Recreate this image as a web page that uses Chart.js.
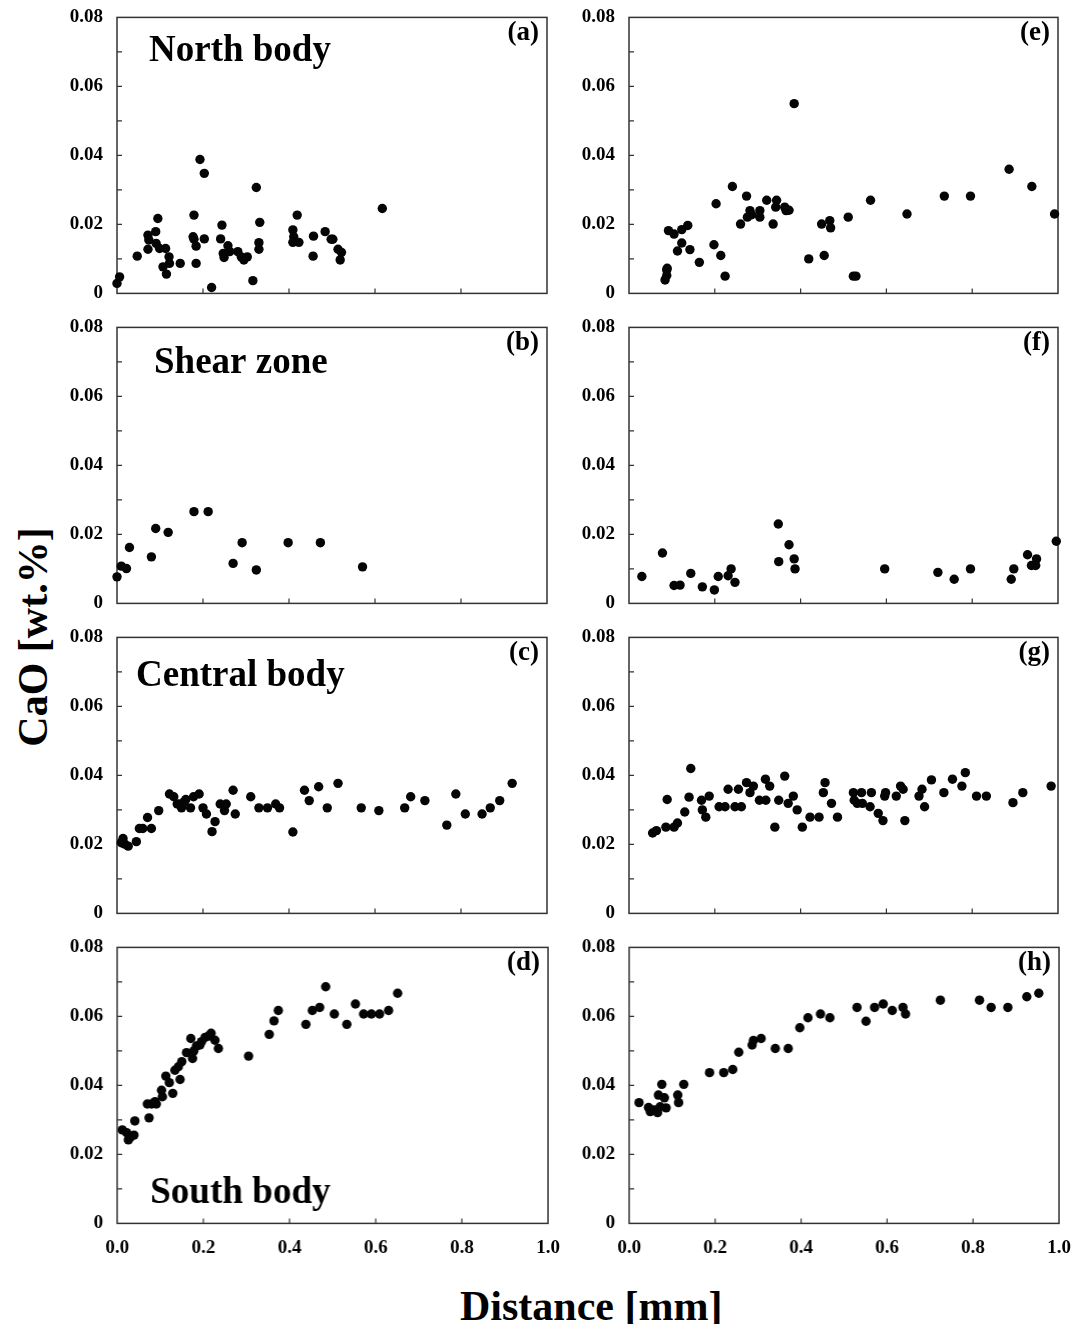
<!DOCTYPE html>
<html>
<head>
<meta charset="utf-8">
<script src="https://cdn.jsdelivr.net/npm/chart.js@4"></script>
<style>
  html, body { margin: 0; padding: 0; background: #fff; }
  #wrap { position: relative; width: 1072px; height: 1324px; overflow: hidden; background: #fff; }
  canvas { position: absolute; }
  .axt { position: absolute; font-family: "Liberation Serif", "Times New Roman", serif; font-weight: bold; font-size: 42px; color: #000; white-space: nowrap; line-height: 1; }
</style>
</head>
<body>
<div id="wrap">
  <div class="axt" id="ytitle">CaO [wt.%]</div>
  <div class="axt" id="xtitle">Distance [mm]</div>
</div>
<script>
// ---------------- DATA ----------------
const xTicks = [0.0, 0.2, 0.4, 0.6, 0.8, 1.0];
const yTicks = [0, 0.02, 0.04, 0.06, 0.08];

// (a) North body
const aX = [0.000,0.006,0.047,0.072,0.072,0.074,0.090,0.095,0.091,0.099,0.107,0.113,0.115,0.121,0.122,0.147,0.179,0.177,0.179,0.184,0.184,0.193,0.203,0.203,0.220,0.244,0.241,0.247,0.249,0.258,0.262,0.281,0.289,0.295,0.303,0.316,0.324,0.332,0.330,0.330,0.409,0.411,0.409,0.419,0.423,0.457,0.456,0.484,0.498,0.502,0.514,0.522,0.519,0.617];
const aY = [0.0029,0.0048,0.0108,0.0169,0.0128,0.0155,0.0179,0.0217,0.0145,0.0130,0.0077,0.0130,0.0056,0.0106,0.0087,0.0087,0.0227,0.0164,0.0157,0.0137,0.0087,0.0388,0.0348,0.0158,0.0017,0.0198,0.0158,0.0116,0.0104,0.0138,0.0121,0.0121,0.0106,0.0097,0.0106,0.0037,0.0307,0.0206,0.0147,0.0128,0.0184,0.0164,0.0148,0.0227,0.0148,0.0166,0.0108,0.0179,0.0157,0.0157,0.0128,0.0119,0.0097,0.0246];

// (b) Shear zone
const bX = [0.000,0.010,0.022,0.029,0.080,0.090,0.119,0.179,0.212,0.270,0.291,0.324,0.398,0.473,0.571];
const bY = [0.0077,0.0108,0.0101,0.0162,0.0135,0.0217,0.0206,0.0266,0.0266,0.0116,0.0176,0.0097,0.0176,0.0176,0.0106];

// (c) Central body
const cX = [0.010,0.014,0.018,0.026,0.045,0.052,0.060,0.071,0.080,0.097,0.122,0.132,0.147,0.150,0.157,0.171,0.178,0.191,0.200,0.208,0.221,0.228,0.240,0.250,0.254,0.270,0.275,0.311,0.330,0.350,0.369,0.378,0.409,0.436,0.447,0.469,0.489,0.514,0.568,0.609,0.669,0.683,0.716,0.767,0.788,0.810,0.849,0.868,0.890,0.919,0.140,0.160];
const cY = [0.0205,0.0217,0.0201,0.0195,0.0208,0.0246,0.0246,0.0278,0.0246,0.0298,0.0346,0.0338,0.0317,0.0306,0.0324,0.0306,0.0338,0.0346,0.0306,0.0288,0.0237,0.0266,0.0317,0.0298,0.0317,0.0357,0.0288,0.0338,0.0306,0.0306,0.0317,0.0306,0.0236,0.0357,0.0327,0.0367,0.0306,0.0377,0.0306,0.0298,0.0306,0.0338,0.0327,0.0256,0.0346,0.0288,0.0288,0.0306,0.0327,0.0377,0.0317,0.0330];

// (d) South body
const dX = [0.012,0.022,0.026,0.031,0.039,0.041,0.070,0.074,0.080,0.088,0.091,0.103,0.105,0.113,0.121,0.129,0.134,0.142,0.146,0.150,0.161,0.171,0.175,0.178,0.184,0.192,0.196,0.204,0.212,0.218,0.227,0.235,0.305,0.353,0.364,0.374,0.438,0.453,0.470,0.484,0.504,0.533,0.553,0.572,0.590,0.609,0.630,0.651];
const dY = [0.0271,0.0263,0.0242,0.0251,0.0256,0.0297,0.0346,0.0306,0.0346,0.0353,0.0346,0.0386,0.0367,0.0427,0.0408,0.0377,0.0444,0.0454,0.0417,0.0469,0.0495,0.0536,0.0478,0.0500,0.0514,0.0517,0.0527,0.0539,0.0543,0.0551,0.0531,0.0507,0.0485,0.0548,0.0587,0.0617,0.0577,0.0617,0.0626,0.0686,0.0607,0.0577,0.0636,0.0607,0.0607,0.0607,0.0617,0.0667];

// (e)
const eX = [0.084,0.088,0.088,0.089,0.092,0.105,0.113,0.123,0.123,0.137,0.142,0.164,0.198,0.203,0.214,0.224,0.241,0.260,0.274,0.276,0.282,0.286,0.305,0.305,0.321,0.336,0.344,0.342,0.363,0.373,0.366,0.385,0.419,0.449,0.455,0.468,0.470,0.511,0.523,0.529,0.563,0.648,0.735,0.796,0.886,0.939,0.992];
const eY = [0.0039,0.0052,0.0068,0.0073,0.0182,0.0172,0.0123,0.0185,0.0146,0.0197,0.0127,0.0090,0.0141,0.0260,0.0110,0.0050,0.0310,0.0201,0.0282,0.0221,0.0240,0.0228,0.0240,0.0221,0.0270,0.0201,0.0270,0.0250,0.0250,0.0241,0.0240,0.0550,0.0100,0.0201,0.0110,0.0211,0.0190,0.0221,0.0050,0.0050,0.0270,0.0230,0.0282,0.0282,0.0360,0.0310,0.0230];

// (f)
const fX = [0.030,0.078,0.105,0.119,0.144,0.171,0.199,0.208,0.231,0.238,0.247,0.348,0.349,0.373,0.385,0.387,0.596,0.720,0.758,0.796,0.891,0.897,0.929,0.938,0.948,0.950,0.996];
const fY = [0.0078,0.0146,0.0052,0.0053,0.0087,0.0048,0.0039,0.0078,0.0080,0.0100,0.0061,0.0230,0.0121,0.0170,0.0129,0.0100,0.0100,0.0090,0.0070,0.0100,0.0070,0.0100,0.0141,0.0110,0.0110,0.0129,0.0180];

// (g)
const gX = [0.055,0.064,0.086,0.089,0.105,0.113,0.130,0.140,0.144,0.169,0.171,0.179,0.187,0.210,0.224,0.231,0.247,0.255,0.262,0.274,0.282,0.290,0.304,0.318,0.319,0.328,0.340,0.349,0.363,0.371,0.383,0.392,0.404,0.422,0.443,0.453,0.457,0.472,0.486,0.523,0.525,0.532,0.542,0.544,0.565,0.562,0.581,0.592,0.596,0.598,0.623,0.633,0.639,0.643,0.676,0.683,0.689,0.705,0.734,0.754,0.776,0.784,0.810,0.833,0.895,0.918,0.984];
const gY = [0.0233,0.0240,0.0250,0.0330,0.0250,0.0262,0.0294,0.0337,0.0420,0.0328,0.0300,0.0279,0.0340,0.0309,0.0309,0.0360,0.0309,0.0360,0.0309,0.0379,0.0350,0.0369,0.0328,0.0389,0.0328,0.0369,0.0250,0.0328,0.0398,0.0319,0.0340,0.0300,0.0250,0.0279,0.0279,0.0350,0.0379,0.0319,0.0279,0.0350,0.0328,0.0319,0.0350,0.0319,0.0350,0.0309,0.0290,0.0269,0.0340,0.0350,0.0340,0.0369,0.0360,0.0269,0.0340,0.0360,0.0309,0.0387,0.0350,0.0389,0.0369,0.0408,0.0340,0.0340,0.0321,0.0350,0.0369];

// (h)
const hX = [0.023,0.045,0.049,0.058,0.066,0.068,0.072,0.076,0.082,0.086,0.113,0.115,0.127,0.187,0.220,0.241,0.255,0.286,0.289,0.307,0.340,0.370,0.397,0.416,0.445,0.467,0.530,0.551,0.571,0.591,0.612,0.637,0.643,0.724,0.815,0.842,0.881,0.925,0.953];
const hY = [0.0350,0.0336,0.0324,0.0329,0.0321,0.0372,0.0338,0.0403,0.0364,0.0335,0.0372,0.0350,0.0403,0.0437,0.0437,0.0446,0.0496,0.0517,0.0530,0.0536,0.0507,0.0507,0.0567,0.0596,0.0607,0.0596,0.0626,0.0586,0.0626,0.0636,0.0617,0.0626,0.0607,0.0647,0.0647,0.0626,0.0626,0.0657,0.0667];

const panelLetters = ['(a)','(b)','(c)','(d)','(e)','(f)','(g)','(h)'];
const regionNames = ['North body','Shear zone','Central body','South body'];

// ---------------- LAYOUT ----------------
const plotTops = [17, 327, 637, 947];
const plotH = 276;
const cols = [
  { left: 30, width: 533, yw: 87, plotLeft: 117, plotW: 430 },
  { left: 545, width: 529, yw: 84, plotLeft: 629, plotW: 429 }
];
const nameOffsets = [ {dx: 32, base: 44}, {dx: 37, base: 46}, {dx: 19, base: 49}, {dx: 33, base: 256} ];

const panels = [
  { xs: aX, ys: aY, col: 0, row: 0 },
  { xs: bX, ys: bY, col: 0, row: 1 },
  { xs: cX, ys: cY, col: 0, row: 2 },
  { xs: dX, ys: dY, col: 0, row: 3 },
  { xs: eX, ys: eY, col: 1, row: 0 },
  { xs: fX, ys: fY, col: 1, row: 1 },
  { xs: gX, ys: gY, col: 1, row: 2 },
  { xs: hX, ys: hY, col: 1, row: 3 }
];

const FONT = '"Liberation Serif", "Times New Roman", serif';

const framePlugin = {
  id: 'frame',
  beforeDatasetsDraw(chart, args, opts) {
    const { ctx, chartArea: a, scales } = chart;
    ctx.save();
    ctx.strokeStyle = '#333';
    ctx.lineWidth = 1.5;
    ctx.strokeRect(a.left, a.top, a.right - a.left, a.bottom - a.top);
    ctx.lineWidth = 1.2;
    ctx.beginPath();
    for (let i = 1; i < 8; i++) {
      const py = scales.y.getPixelForValue(i / 100);
      ctx.moveTo(a.left, py);
      ctx.lineTo(a.left + 5, py);
    }
    for (let i = 1; i < xTicks.length - 1; i++) {
      const px = scales.x.getPixelForValue(xTicks[i]);
      ctx.moveTo(px, a.bottom);
      ctx.lineTo(px, a.bottom - 5);
    }
    ctx.stroke();
    ctx.restore();
  },
  afterDraw(chart, args, opts) {
    const { ctx, chartArea: a } = chart;
    ctx.save();
    ctx.fillStyle = '#000';
    ctx.textBaseline = 'alphabetic';
    ctx.font = 'bold 27px ' + FONT;
    ctx.textAlign = 'right';
    ctx.fillText(opts.letter, a.right - 8, a.top + 23);
    if (opts.name) {
      ctx.font = 'bold 37px ' + FONT;
      ctx.textAlign = 'left';
      ctx.fillText(opts.name, a.left + opts.nameDx, a.top + opts.nameBase);
    }
    ctx.restore();
  }
};

const wrap = document.getElementById('wrap');

panels.forEach((p, idx) => {
  const c = cols[p.col];
  const bottomRow = p.row === 3;
  const padTop = 15;
  const padBottom = bottomRow ? 5 : 14;
  const xAxisH = bottomRow ? 40 : 0;
  const h = padTop + plotH + xAxisH + padBottom;
  const cv = document.createElement('canvas');
  cv.width = c.width; cv.height = h;
  cv.style.left = c.left + 'px';
  cv.style.top = (plotTops[p.row] - padTop) + 'px';
  cv.style.width = c.width + 'px';
  cv.style.height = h + 'px';
  wrap.appendChild(cv);

  const pts = p.xs.map((x, i) => ({ x: x, y: p.ys[i] }));
  const xScale = {
    type: 'linear',
    min: xTicks[0], max: xTicks[xTicks.length - 1],
    display: bottomRow,
    grid: { display: false, drawTicks: false },
    border: { display: false },
    afterBuildTicks: (s) => { s.ticks = xTicks.map(v => ({ value: v })); },
    ticks: {
      padding: 13,
      maxRotation: 0,
      autoSkip: false,
      color: '#000',
      font: { family: FONT, size: 19, weight: 'bold' },
      callback: (v) => Number(v).toFixed(1)
    }
  };
  if (bottomRow) xScale.afterFit = (s) => { s.height = 40; };

  const chart = new Chart(cv.getContext('2d'), {
    type: 'scatter',
    data: {
      datasets: [{
        data: pts,
        pointRadius: 4.7,
        pointHoverRadius: 4.7,
        pointBackgroundColor: '#050505',
        pointBorderWidth: 0,
        clip: false
      }]
    },
    options: {
      responsive: false,
      maintainAspectRatio: false,
      animation: false,
      events: [],
      layout: { padding: { top: padTop, right: 16, bottom: padBottom, left: 0 } },
      plugins: {
        legend: { display: false },
        tooltip: { enabled: false },
        frame: {
          letter: panelLetters[idx],
          name: p.col === 0 ? regionNames[p.row] : null,
          nameDx: nameOffsets[p.row].dx,
          nameBase: nameOffsets[p.row].base
        }
      },
      scales: {
        x: xScale,
        y: {
          type: 'linear',
          min: yTicks[0], max: yTicks[yTicks.length - 1],
          grid: { display: false, drawTicks: false },
          border: { display: false },
          afterBuildTicks: (s) => { s.ticks = yTicks.map(v => ({ value: v })); },
          afterFit: (s) => { s.width = c.yw; },
          ticks: {
            padding: 14,
            color: '#000',
            font: { family: FONT, size: 19, weight: 'bold' },
            callback: (v) => (Math.abs(v) < 1e-9 ? '0' : Number(v).toFixed(2))
          }
        }
      }
    },
    plugins: [framePlugin]
  });

  // make the plot area land exactly on the reference frame
  let ca = chart.chartArea;
  const dh = plotH - (ca.bottom - ca.top);
  const dw = c.plotW - (ca.right - ca.left);
  if (Math.abs(dh) > 0.25 || Math.abs(dw) > 0.25) {
    chart.resize(c.width + dw, h + dh);
    ca = chart.chartArea;
  }
  cv.style.top = (plotTops[p.row] - ca.top) + 'px';
  cv.style.left = (c.plotLeft - ca.left) + 'px';
});

// Axis titles
const yt = document.getElementById('ytitle');
const xt = document.getElementById('xtitle');
function placeTitles() {
  const yw = yt.offsetWidth, yh = yt.offsetHeight;
  yt.style.left = (32 - yw / 2) + 'px';
  yt.style.top = (637 - yh / 2) + 'px';
  yt.style.transform = 'rotate(-90deg)';
  const xw = xt.offsetWidth, xh = xt.offsetHeight;
  xt.style.left = (591 - xw / 2) + 'px';
  xt.style.top = (1306 - xh / 2) + 'px';
}
placeTitles();
</script>
</body>
</html>
